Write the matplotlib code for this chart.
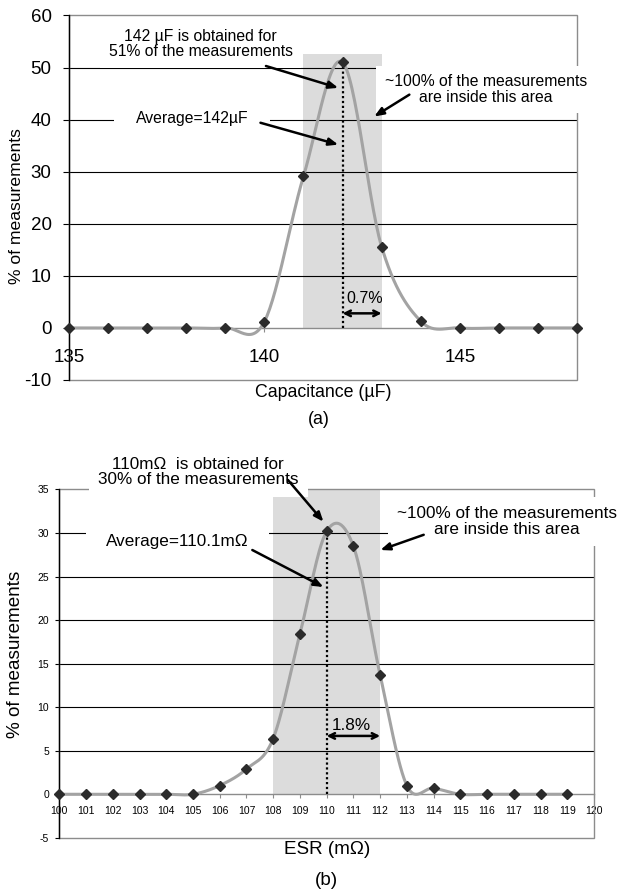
import numpy as np
import matplotlib
matplotlib.use("Agg")
import matplotlib.pyplot as plt
from matplotlib.patches import Rectangle

plt.rcParams["font.family"] = ["Liberation Sans", "DejaVu Sans"]
plt.rcParams["axes.unicode_minus"] = False

# (a) capacitance distribution
cap_values = [135, 136, 137, 138, 139, 140, 141, 142, 143, 144, 145, 146, 147, 148]
cap_percent = [0, 0, 0, 0, 0, 1.2, 29.1, 51.0, 15.6, 1.3, 0, 0, 0, 0]
cap_xticks = [135, 140, 145]
cap_yticks = [-10, 0, 10, 20, 30, 40, 50, 60]
cap_band = (141, 143, 52.6)      # x from, x to, top
cap_spread = (142, 143, 2.8)     # arrow from, to, height

# (b) ESR distribution
esr_values = list(range(100, 120))
esr_percent = [0, 0, 0, 0, 0, 0, 1.0, 2.9, 6.4, 18.4,
               30.2, 28.5, 13.7, 1.0, 0.7, 0, 0, 0, 0, 0]
esr_xticks = list(range(100, 121))
esr_yticks = [-5, 0, 5, 10, 15, 20, 25, 30, 35]
esr_band = (108, 112, 35.1)
esr_spread = (110, 112, 6.7)

LINE_GRAY = "#a3a3a3"
BORDER_GRAY = "#8c8c8c"
SHADE = "#dcdcdc"


def smooth(x, y, n=30):
    # bezier smoothing like a spreadsheet "smoothed line"
    x = np.asarray(x, float)
    y = np.asarray(y, float)
    px = np.concatenate([[x[0]], x, [x[-1]]])
    py = np.concatenate([[y[0]], y, [y[-1]]])
    t = np.linspace(0, 1, n)[:, None]
    out = []
    for i in range(len(x) - 1):
        p0 = np.array([px[i], py[i]])
        p1 = np.array([px[i + 1], py[i + 1]])
        p2 = np.array([px[i + 2], py[i + 2]])
        p3 = np.array([px[i + 3], py[i + 3]])
        c1 = p1 + (p2 - p0) / 6
        c2 = p2 - (p3 - p1) / 6
        seg = ((1 - t) ** 3) * p1 + 3 * ((1 - t) ** 2) * t * c1 \
            + 3 * (1 - t) * t ** 2 * c2 + t ** 3 * p2
        out.append(seg)
    pts = np.vstack(out)
    return pts[:, 0], pts[:, 1]


def setup(ax, xlim, xticks, yticks, fs, xpad, ylen, ypad):
    ax.set_xlim(xlim)
    ax.set_ylim(yticks[0], yticks[-1])
    ax.set_xticks(xticks)
    ax.set_yticks(yticks)
    for s in ("top", "right"):
        ax.spines[s].set_visible(False)
    ax.spines["bottom"].set_position(("data", 0))
    ax.spines["bottom"].set_color(BORDER_GRAY)
    ax.spines["bottom"].set_linewidth(1.0)
    ax.spines["left"].set_color("black")
    ax.spines["left"].set_linewidth(1.0)
    ax.tick_params(axis="x", direction="out", length=3, width=0.8,
                   color=BORDER_GRAY, pad=xpad, labelsize=fs)
    ax.tick_params(axis="y", direction="out", length=ylen, width=0.8,
                   pad=ypad, labelsize=fs)
    levels = [v for v in yticks if v not in (yticks[0], 0, yticks[-1])]
    ax.hlines(levels, xlim[0], xlim[1], color="black", lw=0.8, zorder=1.5)
    ax.add_patch(Rectangle((0, 0), 1, 1, transform=ax.transAxes, fill=False,
                           edgecolor=BORDER_GRAY, lw=1.0, clip_on=False, zorder=1.6))


def draw_series(ax, xs, ys, band, spread, spread_label, label_pos, fs):
    ax.fill_between([band[0], band[1]], 0, band[2], color=SHADE, lw=0, zorder=0.5)
    sx, sy = smooth(xs, ys)
    ax.plot(sx, sy, color=LINE_GRAY, lw=2.2, zorder=4, solid_capstyle="round")
    ax.plot(xs, ys, ls="none", marker="D", ms=5.5, color="#2b2b2b", zorder=5, clip_on=False)
    k = int(np.argmax(ys))
    ax.vlines(xs[k], 0, ys[k], color="black", lw=1.6, linestyles=(0, (1, 1.2)), zorder=4.5)
    ax.annotate("", xy=(spread[1], spread[2]), xytext=(spread[0], spread[2]),
                arrowprops=dict(arrowstyle="<->", lw=1.8, color="black",
                                shrinkA=0, shrinkB=0), zorder=6)
    ax.text(label_pos[0], label_pos[1], spread_label, fontsize=fs, ha="center",
            va="center", zorder=6)


def note(ax, x, y, s, fs, pad=0.55):
    ax.text(x, y, s, fontsize=fs, ha="center", va="center", linespacing=1.05,
            bbox=dict(boxstyle=f"square,pad={pad}", facecolor="white", edgecolor="none"),
            zorder=3, clip_on=False)


def arrow(ax, tail, head):
    ax.annotate("", xy=head, xytext=tail,
                arrowprops=dict(arrowstyle="-|>,head_length=0.55,head_width=0.22",
                                lw=1.8, color="black", shrinkA=0, shrinkB=0),
                zorder=6)


fig = plt.figure(figsize=(6.2, 8.93), dpi=100)

# ---- (a)
ax_a = fig.add_axes([69 / 620, 1 - 380 / 893, 508 / 620, 364.5 / 893])
setup(ax_a, (cap_values[0], cap_values[-1]), cap_xticks, cap_yticks, 13.5, 12, 4.5, 8)
draw_series(ax_a, cap_values, cap_percent, cap_band, cap_spread, "0.7%", (142.57, 5.6), 11.5)
note(ax_a, 138.37, 54.5, "142 µF is obtained for\n51% of the measurements", 11.3)
note(ax_a, 138.15, 40.2, "Average=142µF", 11.3, pad=1.4)
note(ax_a, 145.67, 45.8, "~100% of the measurements\nare inside this area", 11.3)
arrow(ax_a, (140.04, 50.3), (141.89, 46.1))
arrow(ax_a, (139.9, 39.4), (141.89, 35.2))
arrow(ax_a, (143.71, 44.8), (142.81, 40.6))
ax_a.set_xlabel("Capacitance (µF)", fontsize=12.8)
ax_a.xaxis.set_label_coords(0.5, -0.012)
ax_a.set_ylabel("% of measurements", fontsize=12.6)
ax_a.yaxis.set_label_coords(-0.089, 0.477)
fig.text(0.515, 1 - 420 / 893, "(a)", fontsize=12.8, ha="center", va="center")

# ---- (b)
ax_b = fig.add_axes([59.3 / 620, 1 - 837.8 / 893, 534.7 / 620, 348.3 / 893])
setup(ax_b, (esr_xticks[0], esr_xticks[-1]), esr_xticks, esr_yticks, 7.5, 5.8, 3, 4.3)
draw_series(ax_b, esr_values, esr_percent, esr_band, esr_spread, "1.8%", (110.94, 7.9), 12.3)
note(ax_b, 105.2, 37.0, "110mΩ  is obtained for\n30% of the measurements", 12.3)
note(ax_b, 104.42, 29.0, "Average=110.1mΩ", 12.3, pad=1.2)
note(ax_b, 116.75, 31.3, "~100% of the measurements\nare inside this area", 12.3)
arrow(ax_b, (108.55, 36.1), (109.88, 31.3))
arrow(ax_b, (107.22, 28.05), (109.88, 23.8))
arrow(ax_b, (113.63, 29.8), (112.01, 28.05))
ax_b.set_xlabel("ESR (mΩ)", fontsize=13.6)
ax_b.xaxis.set_label_coords(0.5, -0.01)
ax_b.set_ylabel("% of measurements", fontsize=13.6)
ax_b.yaxis.set_label_coords(-0.066, 0.528)
fig.text(0.526, 1 - 880.7 / 893, "(b)", fontsize=13.6, ha="center", va="center")

fig.savefig("out.png", dpi=100)
